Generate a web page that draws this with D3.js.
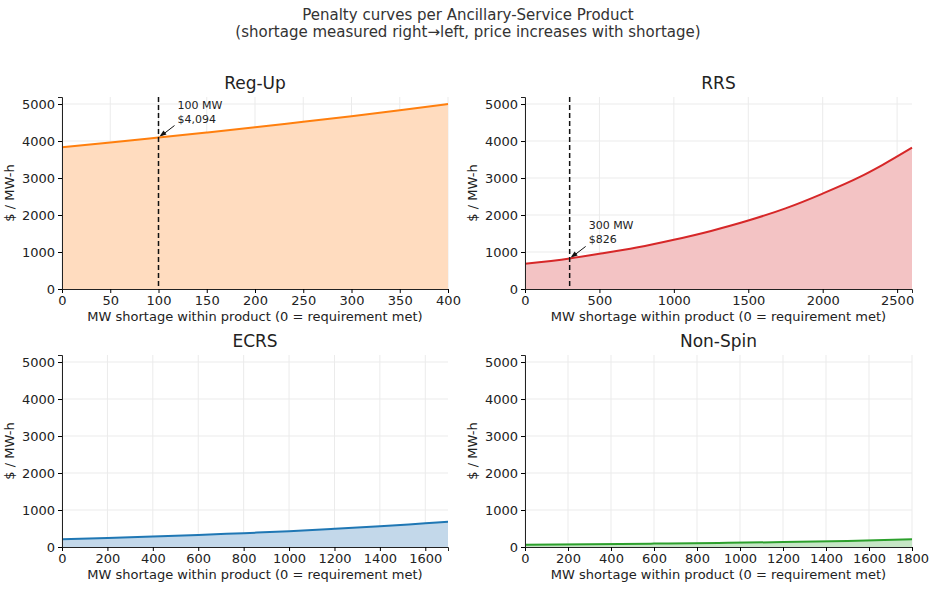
<!DOCTYPE html>
<html><head><meta charset="utf-8">
<script src="https://cdn.jsdelivr.net/npm/d3@7"></script>
<style>body{margin:0;background:#fff}svg{font-family:"DejaVu Sans",sans-serif}</style>
</head><body><svg id="c" width="936" height="589"></svg>
<script>
const titles = ["Reg-Up","RRS","ECRS","Non-Spin"];
const colors = ["#ff7f0e","#d62728","#1f77b4","#2ca02c"];
const fills = ["#ffdcbf","#f3c3c4","#c3d8ea","#c6e6c6"];
const regUpX = [0,50,100,150,200,250,300,350,400];
const regUpY = [3830,3960,4094,4230,4370,4520,4670,4830,5000];
const rrsX = [0,300,500,750,1000,1250,1500,1750,2000,2250,2400,2600];
const rrsY = [680,826,950,1120,1330,1570,1850,2180,2580,3030,3350,3820];
const ecrsX = [0,200,400,600,800,1000,1200,1400,1600,1700];
const ecrsY = [210,245,285,325,375,425,490,560,640,680];
const nsX = [0,300,600,900,1200,1500,1800];
const nsY = [60,75,92,110,132,165,210];
const xMax = [400,2600,1700,1800];
const xTicks = [[0,50,100,150,200,250,300,350,400],[0,500,1000,1500,2000,2500],
  [0,200,400,600,800,1000,1200,1400,1600],[0,200,400,600,800,1000,1200,1400,1600,1800]];
const yTicks = [0,1000,2000,3000,4000,5000];
const markers = [{x:100,y:4094,label:["100 MW","$4,094"]},{x:300,y:826,label:["300 MW","$826"]},null,null];
const series = [[regUpX,regUpY],[rrsX,rrsY],[ecrsX,ecrsY],[nsX,nsY]];
const svg = d3.select("#c");
svg.append("text").attr("x",468).attr("y",20).attr("text-anchor","middle").attr("font-size",15).attr("fill","#333").text("Penalty curves per Ancillary-Service Product");
svg.append("text").attr("x",468).attr("y",37).attr("text-anchor","middle").attr("font-size",15).attr("fill","#333").text("(shortage measured right→left, price increases with shortage)");
const boxes = [[62,448,97,289],[525,912,97,289],[62,448,355,547],[525,912,355,547]];
const fmt = d3.format("d");
boxes.forEach((b,i)=>{
  const [x0,x1,y0,y1]=b;
  const x=d3.scaleLinear().domain([0,xMax[i]]).range([x0,x1]);
  const y=d3.scaleLinear().domain([0,5190]).range([y1,y0]);
  const g=svg.append("g");
  xTicks[i].forEach(t=>g.append("line").attr("x1",x(t)).attr("x2",x(t)).attr("y1",y0).attr("y2",y1).attr("stroke","#ebebeb"));
  yTicks.forEach(t=>g.append("line").attr("x1",x0).attr("x2",x1).attr("y1",y(t)).attr("y2",y(t)).attr("stroke","#ebebeb"));
  const pts=series[i][0].map((v,k)=>[v,series[i][1][k]]);
  g.append("path").datum(pts).attr("fill",fills[i]).attr("d",d3.area().x(d=>x(d[0])).y0(y(0)).y1(d=>y(d[1])).curve(d3.curveMonotoneX));
  g.append("path").datum(pts).attr("fill","none").attr("stroke",colors[i]).attr("stroke-width",2).attr("d",d3.line().x(d=>x(d[0])).y(d=>y(d[1])).curve(d3.curveMonotoneX));
  g.append("g").attr("transform",`translate(0,${y1})`).call(d3.axisBottom(x).tickValues(xTicks[i]).tickFormat(fmt).tickSize(4).tickPadding(3)).call(a=>a.selectAll("text").attr("font-size",13).attr("fill","#222").style("font-family","DejaVu Sans"));
  g.append("g").attr("transform",`translate(${x0},0)`).call(d3.axisLeft(y).tickValues(yTicks).tickFormat(fmt).tickSize(4).tickPadding(3)).call(a=>a.selectAll("text").attr("font-size",13).attr("fill","#222").style("font-family","DejaVu Sans"));
  g.selectAll(".domain").attr("stroke","#222");
  g.append("text").attr("x",(x0+x1)/2).attr("y",y0-8).attr("text-anchor","middle").attr("font-size",17).attr("fill","#222").text(titles[i]);
  g.append("text").attr("x",(x0+x1)/2).attr("y",y1+32).attr("text-anchor","middle").attr("font-size",13).attr("fill","#222").text("MW shortage within product (0 = requirement met)");
  g.append("text").attr("transform",`translate(${x0-48},${(y0+y1)/2}) rotate(-90)`).attr("text-anchor","middle").attr("font-size",13).attr("fill","#222").text("$ / MW-h");
  const m=markers[i];
  if(m){
    g.append("line").attr("x1",x(m.x)).attr("x2",x(m.x)).attr("y1",y0).attr("y2",y1).attr("stroke","#111").attr("stroke-width",1.5).attr("stroke-dasharray","5,3");
    const px=x(m.x), py=y(m.y);
    g.append("line").attr("x1",px+16).attr("y1",py-12).attr("x2",px+3).attr("y2",py-2).attr("stroke","#111");
    g.append("path").attr("d",`M${px+1},${py-1} l7,-2 l-3,-4 z`).attr("fill","#111");
    m.label.forEach((s,k)=>g.append("text").attr("x",px+19).attr("y",py-29+k*14).attr("font-size",11).attr("fill","#222").text(s));
  }
});
</script></body></html>
